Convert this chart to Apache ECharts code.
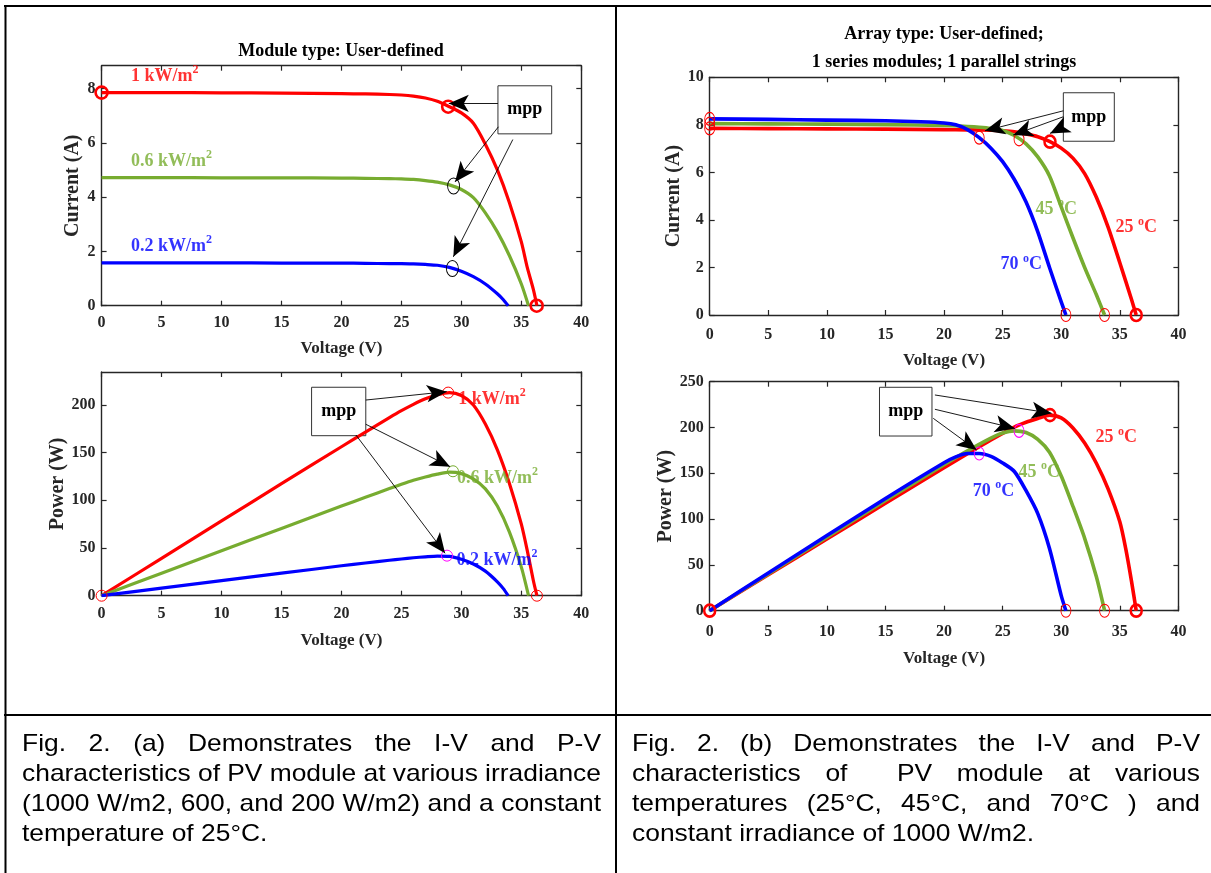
<!DOCTYPE html>
<html>
<head>
<meta charset="utf-8">
<script src="https://cdn.jsdelivr.net/npm/echarts@6/dist/echarts.min.js"></script>
<style>
  html, body { margin: 0; padding: 0; background: #fff; }
  #main { width: 1211px; height: 873px; }
</style>
</head>
<body>
<div id="main"></div>
<script>
// ---------- (a) irradiance sweep, 25 °C : I-V ----------
const a_iv_1000_V = [0, 5, 10, 15, 20, 22, 24, 25, 26, 27, 28, 29, 30, 31, 32, 33, 34, 35, 35.5, 36, 36.3];
const a_iv_1000_I = [7.85, 7.85, 7.84, 7.83, 7.81, 7.8, 7.78, 7.76, 7.72, 7.65, 7.53, 7.33, 7.1, 6.72, 5.95, 5.0, 3.8, 2.35, 1.4, 0.6, 0];
const a_iv_600_V = [0, 5, 10, 15, 20, 22, 24, 25, 26, 27, 28, 29, 30, 31, 32, 33, 34, 35, 35.6];
const a_iv_600_I = [4.72, 4.72, 4.71, 4.71, 4.7, 4.69, 4.68, 4.67, 4.65, 4.61, 4.55, 4.45, 4.28, 3.98, 3.42, 2.72, 1.85, 0.8, 0];
const a_iv_200_V = [0, 5, 10, 15, 20, 22, 24, 25, 26, 27, 28, 29, 30, 31, 32, 33, 33.5, 33.9];
const a_iv_200_I = [1.58, 1.58, 1.58, 1.57, 1.57, 1.56, 1.55, 1.55, 1.54, 1.52, 1.49, 1.41, 1.27, 1.07, 0.8, 0.44, 0.22, 0];

// ---------- (a) irradiance sweep, 25 °C : P-V ----------
const a_pv_1000_V = [0, 5, 10, 15, 20, 22, 24, 25, 26, 27, 28, 29, 30, 31, 32, 33, 34, 35, 35.5, 36, 36.3];
const a_pv_1000_P = [0, 39.2, 78.4, 117.5, 156.2, 171.6, 186.7, 194, 200.7, 206.5, 210.8, 213, 210, 200, 180, 153, 118, 75, 47, 16, 0];
const a_pv_600_V = [0, 5, 10, 15, 20, 22, 24, 25, 26, 27, 28, 29, 30, 31, 32, 33, 34, 35, 35.6];
const a_pv_600_P = [0, 23.6, 47.1, 70.6, 94, 103.2, 112.3, 116.8, 121, 124.5, 127.5, 129.5, 128, 122.5, 112, 94, 67, 30, 0];
const a_pv_200_V = [0, 5, 10, 15, 20, 22, 24, 25, 26, 27, 28, 29, 30, 31, 32, 33, 33.5, 33.9];
const a_pv_200_P = [0, 7.9, 15.8, 23.6, 31.4, 34.3, 37.2, 38.5, 39.8, 40.8, 41.6, 41.3, 38.2, 33.3, 25.8, 14.6, 7.4, 0];

// ---------- (b) temperature sweep, 1000 W/m2 : I-V ----------
const b_iv_25_V = [0, 5, 10, 15, 20, 22, 24, 25, 26, 27, 28, 29, 30, 31, 32, 33, 34, 35, 36, 36.4];
const b_iv_25_I = [7.85, 7.84, 7.83, 7.82, 7.8, 7.79, 7.77, 7.75, 7.71, 7.62, 7.5, 7.3, 7.02, 6.6, 5.95, 4.95, 3.7, 2.2, 0.65, 0];
const b_iv_45_V = [0, 5, 10, 15, 20, 22, 23, 24, 25, 26, 27, 28, 29, 30, 31, 32, 33, 33.7];
const b_iv_45_I = [8.05, 8.04, 8.03, 8.01, 7.97, 7.93, 7.9, 7.85, 7.76, 7.55, 7.2, 6.65, 5.85, 4.55, 3.25, 2.0, 0.85, 0];
const b_iv_70_V = [0, 5, 10, 15, 18, 20, 21, 22, 23, 24, 25, 26, 27, 28, 29, 30, 30.4];
const b_iv_70_I = [8.25, 8.23, 8.2, 8.17, 8.13, 8.08, 8.0, 7.8, 7.46, 7.02, 6.45, 5.7, 4.75, 3.5, 2.0, 0.55, 0];

// ---------- (b) temperature sweep, 1000 W/m2 : P-V ----------
const b_pv_25_V = [0, 5, 10, 15, 20, 22, 24, 26, 27, 28, 29, 30, 31, 32, 33, 34, 35, 35.5, 36, 36.4];
const b_pv_25_P = [0, 39.2, 78.3, 117.3, 156, 171.4, 186.5, 200.5, 205.8, 209.9, 213.5, 210.5, 199.5, 183, 161, 133, 97, 68, 32, 0];
const b_pv_45_V = [0, 5, 10, 15, 20, 22, 24, 25, 26, 27, 28, 29, 30, 31, 32, 33, 33.7];
const b_pv_45_P = [0, 40.2, 80.3, 120.2, 159.4, 174.5, 188.4, 194, 196.3, 194.5, 187, 173, 147, 114, 79, 37, 0];
const b_pv_70_V = [0, 5, 10, 15, 20, 21, 22, 23, 24, 25, 26, 27, 28, 29, 30, 30.4];
const b_pv_70_P = [0, 41.2, 82, 122.6, 161.6, 168, 171.6, 171.6, 168.5, 161.3, 152, 131, 106, 68, 16.5, 0];

// ---------- marked points (short circuit, maximum power, open circuit) ----------
const a_iv_pts_red = [[0, 7.85], [28.9, 7.33], [36.28, 0]];
const a_iv_pts_mpp = [[29.35, 4.41], [29.25, 1.37]];
const a_pv_pts_red = [[0, 0], [28.9, 213], [36.3, 0]];
const a_pv_pts_600 = [[29.3, 130.5]];
const a_pv_pts_200 = [[28.8, 42]];
const b_iv_pts_thin = [[0, 8.25], [0, 8.05], [0, 7.85], [23.0, 7.46], [26.4, 7.39], [30.4, 0], [33.7, 0]];
const b_iv_pts_thick = [[29.04, 7.29], [36.4, 0]];
const b_pv_pts_thick = [[0, 0], [29.04, 213.5], [36.4, 0]];
const b_pv_pts_mpp = [[26.4, 196.3], [23.0, 171.6]];
const b_pv_pts_thin = [[30.4, 0], [33.7, 0]];

// ---------- tick values ----------
const voltTicks = { min: 0, max: 40, step: 5 };
const a_iv_ticks = { min: 0, max: 8.84, step: 2 };
const a_pv_ticks = { min: 0, max: 234.6, step: 50 };
const b_iv_ticks = { min: 0, max: 10, step: 2 };
const b_pv_ticks = { min: 0, max: 250, step: 50 };

// ---------- curve labels: text, anchor [V, y] ----------
const a_iv_labels = [['1 kW/m{s|2}', 2.41, 8.45, '#ff0000'], ['0.6 kW/m{s|2}', 2.41, 5.32, '#77ac30'], ['0.2 kW/m{s|2}', 2.41, 2.2, '#0000ff']];
const a_pv_labels = [['1 kW/m{s|2}', 29.7, 206.3, '#ff0000'], ['0.6 kW/m{s|2}', 29.6, 123.4, '#77ac30'], ['0.2 kW/m{s|2}', 29.56, 37.4, '#0000ff']];
const b_iv_labels = [['70 {s|o}C', 24.77, 2.12, '#0000ff'], ['45 {s|o}C', 27.76, 4.46, '#77ac30'], ['25 {s|o}C', 34.59, 3.68, '#ff0000']];
const b_pv_labels = [['25 {s|o}C', 32.88, 189.1, '#ff0000'], ['45 {s|o}C', 26.31, 151.4, '#77ac30'], ['70 {s|o}C', 22.4, 130.7, '#0000ff']];

// ---------- "mpp" call-out boxes and arrows (data coordinates) ----------
const a_iv_box = [[33.05, 8.10], [37.53, 6.33]];
const a_iv_arrows = [[[33.05, 7.45], [28.95, 7.45]], [[33.09, 6.59], [29.47, 4.56]], [[34.29, 6.12], [29.33, 1.80]]];
const a_pv_box = [[17.51, 218.6], [22.03, 167.8]];
const a_pv_arrows = [[[22.03, 205.2], [28.78, 214]], [[22.03, 179.8], [29.06, 135.3]], [[21.21, 168.5], [28.64, 44.5]]];
const b_iv_box = [[30.18, 9.35], [34.53, 7.31]];
const b_iv_arrows = [[[30.18, 8.59], [23.49, 7.75]], [[30.18, 8.34], [25.9, 7.57]], [[30.18, 7.92], [29.04, 7.64]]];
const b_pv_box = [[14.49, 243.9], [18.97, 190.7]];
const b_pv_arrows = [[[19.22, 235.5], [29.18, 215.5]], [[19.22, 219.9], [26.05, 199]], [[19.08, 210], [22.78, 175.4]]];

// ---------- caption text ----------
const captionA = [
  'Fig. 2. (a) Demonstrates the I-V and P-V',
  'characteristics of PV module at various irradiance',
  '(1000 W/m2, 600, and 200 W/m2) and a constant',
  'temperature of 25°C.'
];
const captionB = [
  'Fig. 2. (b) Demonstrates the I-V and P-V',
  'characteristics of  PV module at various',
  'temperatures (25°C, 45°C, and 70°C ) and',
  'constant irradiance of 1000 W/m2.'
];

// ================= building the option =================
const SERIF = "'Liberation Serif', 'Times New Roman', serif";
const AX = '#262626';
const RED = '#ff0000', GREEN = '#77ac30', BLUE = '#0000ff', MAGENTA = '#ff00ff';

const zip = (xs, ys) => xs.map((x, i) => [x, ys[i]]);

const grids = [
  { left: 101.6, top: 65.7, width: 479.7, height: 240 },
  { left: 101.6, top: 372, width: 479.7, height: 223.7 },
  { left: 709.7, top: 77.3, width: 468.7, height: 237.7 },
  { left: 709.7, top: 381.7, width: 468.7, height: 229 }
];

const axisLine = { show: true, onZero: false, lineStyle: { color: AX, width: 1.4 } };
const axisTick = { show: true, inside: true, length: 5, lineStyle: { color: AX, width: 1.2 } };

function xPair(gi, nameGap, labelMargin) {
  return [
    {
      type: 'value', gridIndex: gi, position: 'bottom',
      min: voltTicks.min, max: voltTicks.max, interval: voltTicks.step,
      axisLine, axisTick, splitLine: { show: false },
      axisLabel: { color: AX, fontFamily: SERIF, fontWeight: 'bold', fontSize: 16, margin: labelMargin },
      name: 'Voltage (V)', nameLocation: 'middle', nameGap,
      nameTextStyle: { color: AX, fontFamily: SERIF, fontWeight: 'bold', fontSize: 17 }
    },
    {
      type: 'value', gridIndex: gi, position: 'top',
      min: voltTicks.min, max: voltTicks.max, interval: voltTicks.step,
      axisLine, axisTick, splitLine: { show: false }, axisLabel: { show: false }
    }
  ];
}

function yPair(gi, t, name, nameGap, hideMax) {
  return [
    {
      type: 'value', gridIndex: gi, position: 'left',
      min: t.min, max: t.max, interval: t.step,
      axisLine, axisTick, splitLine: { show: false },
      axisLabel: { color: AX, fontFamily: SERIF, fontWeight: 'bold', fontSize: 16, margin: 6, showMaxLabel: !hideMax },
      name, nameLocation: 'middle', nameGap,
      nameTextStyle: { color: AX, fontFamily: SERIF, fontWeight: 'bold', fontSize: 20 }
    },
    {
      type: 'value', gridIndex: gi, position: 'right',
      min: t.min, max: t.max, interval: t.step,
      axisLine, axisTick, splitLine: { show: false }, axisLabel: { show: false }
    }
  ];
}

function curve(V, Y, color, width, gi) {
  return {
    type: 'line', xAxisIndex: 2 * gi, yAxisIndex: 2 * gi,
    data: zip(V, Y), showSymbol: false, smooth: 0.25,
    lineStyle: { color, width, join: 'round' }, itemStyle: { color },
    silent: true, animation: false, z: 2
  };
}

function points(pts, color, size, bw, gi) {
  return {
    type: 'scatter', xAxisIndex: 2 * gi, yAxisIndex: 2 * gi,
    data: pts, symbol: 'circle', symbolSize: size, clip: false,
    itemStyle: { color: 'rgba(0,0,0,0)', borderColor: color, borderWidth: bw, opacity: 1 },
    silent: true, animation: false, z: 4
  };
}

function notes(labels, box, arrows, gi) {
  return {
    type: 'scatter', xAxisIndex: 2 * gi, yAxisIndex: 2 * gi,
    symbol: 'circle', symbolSize: 1, clip: false,
    itemStyle: { color: 'rgba(0,0,0,0)' },
    silent: true, animation: false, z: 5,
    data: labels.map(([txt, x, y, color]) => ({
      value: [x, y],
      label: {
        show: true, position: 'right', distance: 0,
        formatter: txt, color, fontFamily: SERIF, fontWeight: 'bold', fontSize: 18, lineHeight: 24,
        rich: { s: { color, fontFamily: SERIF, fontWeight: 'bold', fontSize: 12, lineHeight: 12, verticalAlign: 'top' } }
      }
    })),
    markArea: {
      silent: true, animation: false,
      itemStyle: { color: 'rgba(0,0,0,0)', borderColor: '#333', borderWidth: 1 },
      label: { show: true, position: 'inside', formatter: 'mpp', color: '#000', fontFamily: SERIF, fontWeight: 'bold', fontSize: 18 },
      data: [[{ coord: box[0] }, { coord: box[1] }]]
    },
    markLine: {
      silent: true, animation: false, symbol: ['none', 'arrow'], symbolSize: [13, 20],
      lineStyle: { color: '#000', width: 0.9, type: 'solid' },
      label: { show: false },
      data: arrows.map(([s, e]) => [{ coord: s }, { coord: e }])
    }
  };
}

const series = [
  // (a) I-V
  curve(a_iv_1000_V, a_iv_1000_I, RED, 3.2, 0),
  curve(a_iv_600_V, a_iv_600_I, GREEN, 3.2, 0),
  curve(a_iv_200_V, a_iv_200_I, BLUE, 3.2, 0),
  points(a_iv_pts_red, RED, 12, 2.6, 0),
  points(a_iv_pts_mpp, '#000', [12, 16], 1, 0),
  notes(a_iv_labels, a_iv_box, a_iv_arrows, 0),
  // (a) P-V
  curve(a_pv_1000_V, a_pv_1000_P, RED, 3.2, 1),
  curve(a_pv_600_V, a_pv_600_P, GREEN, 3.2, 1),
  curve(a_pv_200_V, a_pv_200_P, BLUE, 3.2, 1),
  points(a_pv_pts_red, RED, 11, 1, 1),
  points(a_pv_pts_600, GREEN, 11, 1, 1),
  points(a_pv_pts_200, MAGENTA, 11, 1, 1),
  notes(a_pv_labels, a_pv_box, a_pv_arrows, 1),
  // (b) I-V
  curve(b_iv_25_V, b_iv_25_I, RED, 3.6, 2),
  curve(b_iv_45_V, b_iv_45_I, GREEN, 3.6, 2),
  curve(b_iv_70_V, b_iv_70_I, BLUE, 3.6, 2),
  points(b_iv_pts_thin, RED, [10, 13], 1, 2),
  points(b_iv_pts_thick, RED, [11, 12], 2.6, 2),
  notes(b_iv_labels, b_iv_box, b_iv_arrows, 2),
  // (b) P-V
  curve(b_pv_25_V, b_pv_25_P, RED, 3.6, 3),
  curve(b_pv_45_V, b_pv_45_P, GREEN, 3.6, 3),
  curve(b_pv_70_V, b_pv_70_P, BLUE, 3.6, 3),
  points(b_pv_pts_thick, RED, [11, 12], 2.6, 3),
  points(b_pv_pts_mpp, MAGENTA, [10, 13], 1, 3),
  points(b_pv_pts_thin, RED, [10, 13], 1, 3),
  notes(b_pv_labels, b_pv_box, b_pv_arrows, 3)
];

// ---------- captions: justified lines, word by word ----------
const CAP_FONT = '24px "Liberation Sans"';
const CAP_SX = 1.1;
const measureCtx = document.createElement('canvas').getContext('2d');
measureCtx.font = CAP_FONT;
const textW = t => measureCtx.measureText(t).width;

function captionGraphics(lines, x0, x1, yFirst, step) {
  const out = [];
  lines.forEach((line, li) => {
    const y = yFirst + li * step;
    const words = line.split(' ');
    const gaps = words.length - 1;
    const wordsW = words.reduce((s, w) => s + textW(w) * CAP_SX, 0);
    const spaceW = textW(' ') * CAP_SX;
    const last = li === lines.length - 1;
    let gap = spaceW;
    if (!last && gaps > 0) gap = Math.max(spaceW * 0.6, (x1 - x0 - wordsW) / gaps);
    let x = x0;
    words.forEach(w => {
      if (w.length) {
        out.push({
          type: 'text', x, y, scaleX: CAP_SX, silent: true,
          style: { text: w, font: CAP_FONT, fill: '#000', textVerticalAlign: 'middle', verticalAlign: 'middle' }
        });
      }
      x += textW(w) * CAP_SX + gap;
    });
  });
  return out;
}

const tableLine = (x1, y1, x2, y2) => ({
  type: 'line', silent: true, shape: { x1, y1, x2, y2 }, style: { stroke: '#000', lineWidth: 2 }
});

const titleText = (text, x, y) => ({
  type: 'text', x, y, silent: true,
  style: { text, fill: '#000', fontFamily: SERIF, fontWeight: 'bold', fontSize: 18, textAlign: 'center', textVerticalAlign: 'middle', verticalAlign: 'middle' }
});

const graphic = [
  tableLine(4, 6, 1211, 6),
  tableLine(5.5, 5, 5.5, 873),
  tableLine(616, 5, 616, 873),
  tableLine(4, 715, 1211, 715),
  titleText('Module type: User-defined', 341, 51),
  titleText('Array type: User-defined;', 944, 34.5),
  titleText('1 series modules; 1 parallel strings', 944, 62.5),
  ...captionGraphics(captionA, 22, 601, 744, 30),
  ...captionGraphics(captionB, 632, 1200, 744, 30)
];

const option = {
  backgroundColor: '#fff',
  animation: false,
  grid: grids,
  xAxis: [
    ...xPair(0, 34, 9),
    ...xPair(1, 36, 10),
    ...xPair(2, 37, 12),
    ...xPair(3, 39, 13)
  ],
  yAxis: [
    ...yPair(0, a_iv_ticks, 'Current (A)', 19, true),
    ...yPair(1, a_pv_ticks, 'Power (W)', 34, true),
    ...yPair(2, b_iv_ticks, 'Current (A)', 25, false),
    ...yPair(3, b_pv_ticks, 'Power (W)', 34, false)
  ],
  series,
  graphic
};

const chart = echarts.init(document.getElementById('main'), null, { renderer: 'canvas' });
chart.setOption(option);
</script>
</body>
</html>
